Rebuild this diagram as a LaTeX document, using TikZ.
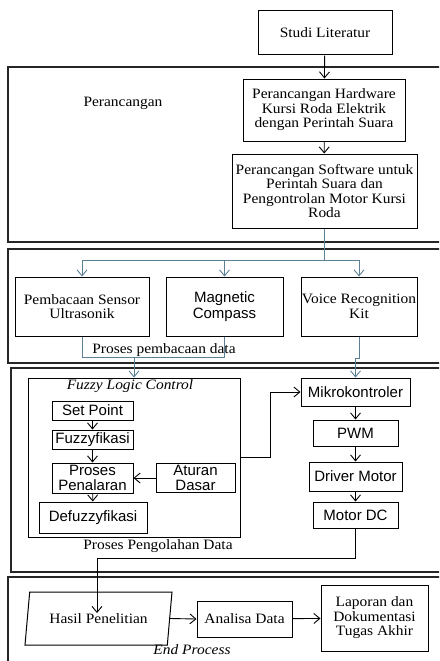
\documentclass[tikz,border=0pt]{standalone}
\usepackage{fontspec}
\setmainfont{Liberation Serif}[FakeStretch=1.08]
\setsansfont{Liberation Sans}
\usetikzlibrary{arrows.meta,shapes.geometric,positioning}
\definecolor{garisbiru}{HTML}{5B7F95}

\begin{document}
\begin{tikzpicture}[x=1pt,y=-1pt,
      bingkai/.style={draw=black!85,line width=1.1pt},
      kotak/.style={draw,line width=1pt,inner sep=0pt,align=center,font=\fontsize{14.3}{14.5}\selectfont},
      kotaksans/.style={kotak,font=\sffamily\fontsize{15}{15.5}\selectfont},
      teks/.style={inner sep=0pt,font=\fontsize{14.3}{14.5}\selectfont},
      panah/.style={-{Straight Barb[length=6pt,width=10pt]},line width=0.9pt},
      biru/.style={draw=garisbiru,line width=0.9pt},
    ]
    \useasboundingbox (0,0) rectangle (439,661);
    \clip (0,0) rectangle (439,661);

    \draw[bingkai] (8,67) rectangle (445,242);
    \draw[bingkai] (8,249) rectangle (445,363);
    \draw[bingkai] (11,368) rectangle (445,572);
    \draw[bingkai] (8,577) rectangle (445,670);

    \node[kotak,minimum width=134,minimum height=44] (studi) at (325,33) {Studi Literatur};
    \node[teks] (perancangan) at (123,103) {Perancangan};
    \node[kotak,minimum width=162,minimum height=62] (hardware) at (324,110)
        {Perancangan Hardware\\Kursi Roda Elektrik\\dengan Perintah Suara};
    \node[kotak,minimum width=185,minimum height=74] (software) at (324.5,191)
        {Perancangan Software untuk\\Perintah Suara dan\\Pengontrolan Motor Kursi\\Roda};

    \node[kotak,minimum width=134,minimum height=59] (sensor) at (82,306.5)
        {Pembacaan Sensor\\Ultrasonik};
    \node[kotaksans,minimum width=117,minimum height=59] (kompas) at (224.5,306.5)
        {Magnetic\\Compass};
    \node[kotak,minimum width=116,minimum height=59] (vrk) at (359,306.5)
        {Voice Recognition\\Kit};
    \node[teks] (pembacaan) at (164,350) {Proses pembacaan data};

    \node[kotak,minimum width=212,minimum height=159] (flc) at (134,457.5) {};
    \node[teks,font=\itshape\fontsize{14.3}{14.5}\selectfont] (judulflc) at (130,386) {Fuzzy Logic Control};
    \node[kotaksans,minimum width=81,minimum height=19] (setpoint) at (92.5,410.5) {Set Point};
    \node[kotaksans,minimum width=81,minimum height=19] (fuzzy) at (92.5,439.5) {Fuzzyfikasi};
    \node[kotaksans,minimum width=81,minimum height=30] (penalaran) at (92.5,478) {Proses\\Penalaran};
    \node[kotaksans,minimum width=79,minimum height=29] (aturan) at (195.5,478) {Aturan\\Dasar};
    \node[kotaksans,minimum width=108,minimum height=31] (defuzzy) at (93,517.5) {Defuzzyfikasi};

    \node[kotaksans,minimum width=109,minimum height=28] (mikro) at (355.5,392) {Mikrokontroler};
    \node[kotaksans,minimum width=85,minimum height=26] (pwm) at (355.5,433) {PWM};
    \node[kotaksans,minimum width=93,minimum height=29] (driver) at (355.5,476.5) {Driver Motor};
    \node[kotaksans,minimum width=85,minimum height=26] (motordc) at (355.5,515) {Motor DC};
    \node[teks] (pengolahan) at (158,546) {Proses Pengolahan Data};

    \node[kotak,trapezium,trapezium left angle=65,trapezium right angle=115,
        trapezium stretches body,minimum width=147,minimum height=53] (hasil) at (98.5,618.5) {Hasil Penelitian};
    \node[kotak,minimum width=95,minimum height=36] (analisa) at (244.5,619) {Analisa Data};
    \node[kotak,minimum width=107,minimum height=66] (laporan) at (374.5,618)
        {Laporan dan\\Dokumentasi\\Tugas Akhir};
    \node[teks,font=\itshape\fontsize{14.3}{14.5}\selectfont] (endprocess) at (192,650) {End Process};

    \coordinate (bus) at (324.5,260);
    \coordinate (gabung) at (134,357);
    \coordinate (belok) at (97,558);
    \coordinate (masuk) at (97,613);

    \draw[panah] (studi) -- (hardware);
    \draw[panah] (hardware) -- (software);
    \draw[biru] (software) -- (bus);
    \draw[biru,panah] (bus) -| (sensor);
    \draw[biru,panah] (bus) -- (kompas.north |- bus) -- (kompas);
    \draw[biru,panah] (bus) -| (vrk);
    \draw[biru] (sensor) |- (gabung);
    \draw[biru] (kompas) |- (gabung);
    \draw[biru,panah] (gabung) -- (flc);
    \draw[biru,panah] (vrk.south) -- ++(0,22) -| (mikro.north);

    \draw[panah] (setpoint) -- (fuzzy);
    \draw[panah] (fuzzy) -- (penalaran);
    \draw[panah] (aturan) -- (penalaran);
    \draw[panah] (penalaran) -- (defuzzy);
    \draw[panah] (flc.east) -- ++(30,0) |- (mikro.west);

    \draw[panah] (mikro) -- (pwm);
    \draw[panah] (pwm) -- (driver);
    \draw[panah] (driver) -- (motordc);
    \draw[panah] (motordc.south) |- (belok) -- (masuk);

    \draw[panah] (hasil.east) -- (analisa.west);
    \draw[panah] (analisa) -- (laporan);
\end{tikzpicture}
\end{document}
